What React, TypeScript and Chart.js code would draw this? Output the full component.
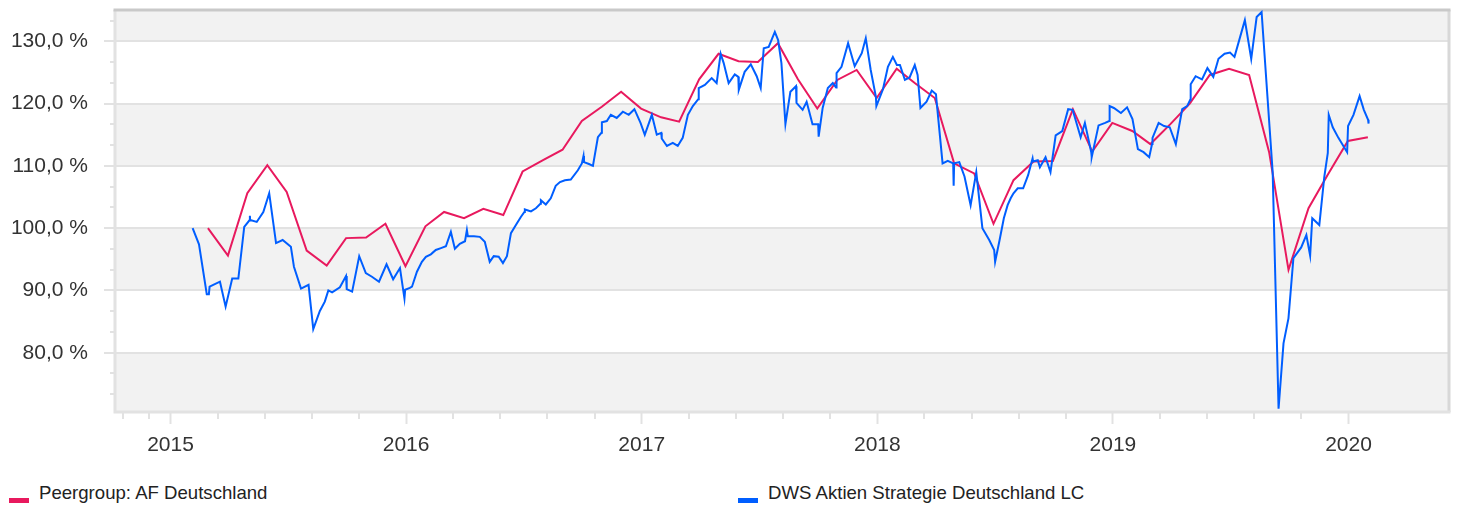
import React, { useEffect, useRef } from "react";
import { Chart, registerables } from "chart.js";

Chart.register(...registerables);

// ---------- data ----------
const X_TICKS = [2015, 2016, 2017, 2018, 2019, 2020];
const Y_TICKS = [80, 90, 100, 110, 120, 130];

const PEER_LABEL = "Peergroup: AF Deutschland";
const DWS_LABEL = "DWS Aktien Strategie Deutschland LC";

const peerMonths = [
  "2015-02", "2015-03", "2015-04", "2015-05", "2015-06", "2015-07", "2015-08", "2015-09", "2015-10", "2015-11", "2015-12",
  "2016-01", "2016-02", "2016-03", "2016-04", "2016-05", "2016-06", "2016-07", "2016-08", "2016-09", "2016-10", "2016-11", "2016-12",
  "2017-01", "2017-02", "2017-03", "2017-04", "2017-05", "2017-06", "2017-07", "2017-08", "2017-09", "2017-10", "2017-11", "2017-12",
  "2018-01", "2018-02", "2018-03", "2018-04", "2018-05", "2018-06", "2018-07", "2018-08", "2018-09", "2018-10", "2018-11", "2018-12",
  "2019-01", "2019-02", "2019-03", "2019-04", "2019-05", "2019-06", "2019-07", "2019-08", "2019-09", "2019-10", "2019-11", "2019-12",
  "2020-01",
];

const peerValues = [
  100.0, 95.6, 105.6, 110.1, 105.8, 96.4, 94.0, 98.4, 98.5, 100.7, 93.9,
  100.3, 102.6, 101.6, 103.1, 102.1, 109.1, 110.9, 112.6, 117.2, 119.5, 121.9, 119.2,
  117.8, 117.1, 123.9, 128.0, 126.8, 126.7, 129.7, 123.9, 119.2, 123.8, 125.4, 120.9,
  125.6, 123.3, 120.9, 110.4, 108.8, 100.7, 107.7, 110.7, 110.8, 119.1, 112.3, 116.9,
  115.6, 113.5, 116.7, 120.0, 124.6, 125.6, 124.6, 112.2, 93.3, 103.2, 108.6, 114.0,
  114.6,
];

// [time in decimal years, value in %]
const dwsSeries: [number, number][] = [
  [2015.094, 100.0], [2015.121, 97.4], [2015.154, 89.4], [2015.163, 89.4], [2015.166, 90.6],
  [2015.210, 91.4], [2015.234, 87.4], [2015.262, 91.9], [2015.288, 91.9], [2015.313, 100.2],
  [2015.336, 101.3], [2015.337, 102.0], [2015.338, 101.3], [2015.366, 101.0], [2015.394, 102.6],
  [2015.419, 105.6], [2015.448, 97.6], [2015.476, 98.1], [2015.511, 97.0], [2015.524, 93.8],
  [2015.554, 90.3], [2015.586, 90.9], [2015.606, 83.8], [2015.634, 86.7], [2015.655, 88.2],
  [2015.670, 90.0], [2015.686, 89.7], [2015.719, 90.5], [2015.745, 92.3], [2015.748, 90.2],
  [2015.771, 89.8], [2015.801, 95.5], [2015.829, 92.8], [2015.855, 92.2], [2015.885, 91.4],
  [2015.917, 94.2], [2015.945, 91.8], [2015.974, 93.6], [2015.993, 88.7], [2015.996, 90.1],
  [2016.016, 90.4], [2016.025, 90.6], [2016.046, 93.0], [2016.067, 94.6], [2016.084, 95.4],
  [2016.105, 95.8], [2016.126, 96.5], [2016.148, 96.8], [2016.169, 97.1], [2016.190, 99.4],
  [2016.207, 96.7], [2016.228, 97.5], [2016.250, 97.9], [2016.258, 99.7], [2016.262, 98.7],
  [2016.288, 98.7], [2016.313, 98.6], [2016.334, 97.8], [2016.355, 94.6], [2016.372, 95.5],
  [2016.393, 95.4], [2016.411, 94.4], [2016.428, 95.5], [2016.445, 99.2], [2016.466, 100.5],
  [2016.487, 101.8], [2016.502, 102.6], [2016.504, 103.0], [2016.530, 102.7], [2016.551, 103.2],
  [2016.570, 103.9], [2016.572, 104.5], [2016.593, 103.8], [2016.614, 104.8], [2016.635, 106.8],
  [2016.653, 107.4], [2016.674, 107.7], [2016.699, 107.8], [2016.729, 109.3], [2016.746, 110.4],
  [2016.753, 111.6], [2016.755, 110.6], [2016.776, 110.3], [2016.793, 110.0], [2016.814, 114.6],
  [2016.829, 115.3], [2016.831, 117.0], [2016.852, 117.2], [2016.869, 118.2], [2016.894, 117.7],
  [2016.920, 118.7], [2016.945, 118.2], [2016.969, 119.1], [2016.995, 116.9], [2017.013, 115.0],
  [2017.043, 118.2], [2017.064, 115.0], [2017.083, 115.3], [2017.085, 114.4], [2017.107, 113.2],
  [2017.132, 113.7], [2017.153, 113.2], [2017.174, 114.5], [2017.196, 118.2], [2017.217, 119.6],
  [2017.240, 120.7], [2017.242, 122.5], [2017.268, 123.0], [2017.297, 124.1], [2017.318, 123.3],
  [2017.335, 128.0], [2017.348, 126.5], [2017.369, 123.3], [2017.395, 124.7], [2017.410, 124.3],
  [2017.412, 122.2], [2017.437, 125.1], [2017.463, 126.3], [2017.488, 124.4], [2017.505, 122.5],
  [2017.518, 128.9], [2017.539, 129.1], [2017.565, 131.5], [2017.579, 130.2], [2017.593, 126.5],
  [2017.610, 116.7], [2017.631, 121.9], [2017.655, 122.8], [2017.657, 120.1], [2017.683, 119.0],
  [2017.700, 120.3], [2017.725, 116.7], [2017.749, 116.7], [2017.751, 114.7], [2017.768, 119.3],
  [2017.790, 122.5], [2017.811, 123.3], [2017.825, 122.6], [2017.827, 124.9], [2017.848, 125.9],
  [2017.876, 129.7], [2017.904, 126.0], [2017.934, 128.1], [2017.951, 130.5], [2017.972, 125.4],
  [2017.994, 121.1], [2017.996, 119.6], [2018.024, 122.3], [2018.045, 125.9], [2018.066, 127.5],
  [2018.083, 126.2], [2018.096, 126.2], [2018.117, 123.8], [2018.137, 124.2], [2018.159, 126.2],
  [2018.171, 124.6], [2018.183, 119.3], [2018.209, 120.3], [2018.231, 122.1], [2018.249, 121.5],
  [2018.251, 120.6], [2018.277, 110.4], [2018.299, 110.8], [2018.322, 110.4], [2018.324, 106.8],
  [2018.326, 110.4], [2018.348, 110.6], [2018.370, 108.3], [2018.396, 103.7], [2018.420, 109.0],
  [2018.446, 100.0], [2018.475, 98.1], [2018.496, 96.5], [2018.500, 94.6], [2018.519, 98.1],
  [2018.537, 101.6], [2018.553, 103.7], [2018.566, 104.8], [2018.578, 105.6], [2018.596, 106.4],
  [2018.619, 106.4], [2018.640, 108.5], [2018.659, 111.2], [2018.661, 110.7], [2018.681, 110.9],
  [2018.690, 109.8], [2018.714, 111.4], [2018.735, 109.0], [2018.757, 114.9], [2018.785, 115.6],
  [2018.810, 119.1], [2018.829, 119.0], [2018.863, 114.6], [2018.881, 116.9], [2018.908, 112.2],
  [2018.910, 111.4], [2018.939, 116.5], [2018.967, 116.9], [2018.984, 117.2], [2018.986, 119.6],
  [2019.004, 119.3], [2019.034, 118.5], [2019.060, 119.4], [2019.083, 117.5], [2019.106, 112.7],
  [2019.130, 112.2], [2019.154, 111.4], [2019.166, 113.5], [2019.168, 114.5], [2019.194, 116.9],
  [2019.217, 116.4], [2019.241, 116.2], [2019.267, 113.5], [2019.294, 119.1], [2019.315, 119.6],
  [2019.328, 120.6], [2019.330, 123.1], [2019.351, 124.4], [2019.378, 123.9], [2019.401, 125.7],
  [2019.426, 124.3], [2019.448, 127.2], [2019.474, 128.0], [2019.497, 128.2], [2019.516, 127.5],
  [2019.560, 133.4], [2019.587, 127.2], [2019.610, 133.9], [2019.631, 134.7], [2019.678, 109.0],
  [2019.703, 71.0], [2019.724, 81.5], [2019.745, 85.5], [2019.766, 95.2], [2019.799, 96.9],
  [2019.821, 98.9], [2019.837, 95.6], [2019.846, 101.6], [2019.876, 100.5], [2019.897, 108.2],
  [2019.912, 112.1], [2019.916, 118.2], [2019.933, 116.2], [2019.957, 114.5], [2019.994, 112.2],
  [2019.998, 116.4], [2020.021, 118.2], [2020.047, 121.2], [2020.065, 119.0], [2020.083, 117.4],
  [2020.085, 116.8],
];

// ---------- styling ----------
const RED = "#e8195e";
const BLUE = "#005eff";
const FONT = "'Liberation Sans', Arial, sans-serif";
const AXIS_LINE = "#e2e2e2";

const X_MIN = 2014.7645;
const X_MAX = 2020.4264;
const Y_MIN = 70.48;
const Y_MAX = 135.03;

const WHITE_BANDS: [number, number][] = [[80, 90], [100, 110], [120, 130]];

function monthEndYear(m: string): number {
  const [y, mo] = m.split("-").map(Number);
  const t = Date.UTC(y, mo, 0);
  const start = Date.UTC(y, 0, 1);
  const end = Date.UTC(y + 1, 0, 1);
  return y + (t - start) / (end - start);
}

const yMinorTicks = (() => {
  const out: number[] = [];
  for (let i = 0; i <= 21; i++) {
    if (i % 3 === 0) continue;
    const v = 70 + (i * 10) / 3;
    if (v > Y_MIN && v < Y_MAX) out.push(v);
  }
  return out;
})();

const xMinorTicks = (() => {
  const out: number[] = [2014.8, 2014.91];
  for (let yr = 2015; yr < 2020; yr++) {
    for (let k = 1; k < 5; k++) out.push(yr + k * 0.2);
  }
  return out;
})();

function zeroPadding(s: any) {
  s.paddingTop = 0;
  s.paddingBottom = 0;
  s.paddingLeft = 0;
  s.paddingRight = 0;
}

const decorPlugin = {
  id: "decor",
  beforeDraw(chart: any) {
    const { ctx, chartArea: a, scales } = chart;
    const y = scales.y;
    ctx.save();
    ctx.fillStyle = "#f2f2f2";
    ctx.fillRect(a.left, a.top, a.right - a.left, a.bottom - a.top);
    ctx.fillStyle = "#ffffff";
    for (const [lo, hi] of WHITE_BANDS) {
      const y1 = y.getPixelForValue(hi);
      const y2 = y.getPixelForValue(lo);
      ctx.fillRect(a.left, y1, a.right - a.left, y2 - y1);
    }
    ctx.restore();
  },
  beforeDatasetsDraw(chart: any) {
    const { ctx, chartArea: a, scales } = chart;
    const x = scales.x;
    const y = scales.y;
    ctx.save();
    ctx.lineWidth = 2;
    ctx.strokeStyle = AXIS_LINE;
    ctx.beginPath();
    for (const v of yMinorTicks) {
      const py = Math.round(y.getPixelForValue(v));
      ctx.moveTo(a.left - 5, py);
      ctx.lineTo(a.left, py);
    }
    for (const v of xMinorTicks) {
      const px = Math.round(x.getPixelForValue(v));
      ctx.moveTo(px, a.bottom);
      ctx.lineTo(px, a.bottom + 7);
    }
    ctx.stroke();
    ctx.lineWidth = 3;
    ctx.strokeStyle = "#d8d8d8";
    ctx.beginPath();
    ctx.moveTo(a.right, a.top);
    ctx.lineTo(a.right, a.bottom);
    ctx.stroke();
    ctx.strokeStyle = AXIS_LINE;
    ctx.beginPath();
    ctx.moveTo(a.left, a.top);
    ctx.lineTo(a.left, a.bottom + 1.5);
    ctx.moveTo(a.left - 1.5, a.bottom);
    ctx.lineTo(a.right + 1.5, a.bottom);
    ctx.stroke();
    ctx.strokeStyle = "#c9c9c9";
    ctx.beginPath();
    ctx.moveTo(a.left - 1.5, a.top);
    ctx.lineTo(a.right + 1.5, a.top);
    ctx.stroke();
    ctx.restore();
  },
};

export default function App() {
  const canvasRef = useRef<HTMLCanvasElement | null>(null);

  useEffect(() => {
    document.body.style.margin = "0";
    const canvas = canvasRef.current;
    if (!canvas) return;
    const chart = new Chart(canvas, {
      type: "line",
      data: {
        datasets: [
          {
            label: DWS_LABEL,
            data: dwsSeries.map(([t, v]) => ({ x: t, y: v })),
            borderColor: BLUE,
            backgroundColor: BLUE,
            borderWidth: 2,
            pointRadius: 0,
            tension: 0,
            fill: false,
          },
          {
            label: PEER_LABEL,
            data: peerMonths.map((m, i) => ({ x: monthEndYear(m), y: peerValues[i] })),
            borderColor: RED,
            backgroundColor: RED,
            borderWidth: 2,
            pointRadius: 0,
            tension: 0,
            fill: false,
          },
        ],
      },
      options: {
        animation: false,
        responsive: false,
        maintainAspectRatio: false,
        layout: { autoPadding: false, padding: { top: 10, right: 11, bottom: 8, left: 0 } },
        plugins: {
          legend: { display: false },
          tooltip: { enabled: false },
          title: { display: false },
        },
        scales: {
          x: {
            type: "linear",
            min: X_MIN,
            max: X_MAX,
            afterBuildTicks: (s: any) => {
              s.ticks = X_TICKS.map((v) => ({ value: v }));
            },
            afterFit: (s: any) => {
              s.height = 60;
              zeroPadding(s);
            },
            grid: {
              drawOnChartArea: false,
              drawTicks: true,
              tickLength: 12,
              tickWidth: 2,
              tickColor: AXIS_LINE,
            },
            border: { display: false },
            ticks: {
              autoSkip: false,
              maxRotation: 0,
              padding: 9,
              color: "#333333",
              font: { family: FONT, size: 21 },
              callback: (v: any) => String(v),
            },
          },
          y: {
            type: "linear",
            min: Y_MIN,
            max: Y_MAX,
            afterBuildTicks: (s: any) => {
              s.ticks = Y_TICKS.map((v) => ({ value: v }));
            },
            afterFit: (s: any) => {
              s.width = 115;
              zeroPadding(s);
            },
            grid: {
              color: AXIS_LINE,
              lineWidth: 2,
              drawTicks: true,
              tickLength: 11,
              tickWidth: 2,
              tickColor: AXIS_LINE,
            },
            border: { display: false },
            ticks: {
              padding: 16,
              color: "#333333",
              font: { family: FONT, size: 21 },
              callback: (v: any) => Number(v).toFixed(1).replace(".", ",") + " %",
            },
          },
        },
      },
      plugins: [decorPlugin],
    } as any);
    return () => chart.destroy();
  }, []);

  const legendText: React.CSSProperties = {
    position: "absolute",
    top: 482,
    fontFamily: FONT,
    fontSize: 18.6,
    lineHeight: "21px",
    color: "#222222",
    whiteSpace: "nowrap",
  };
  const legendBox: React.CSSProperties = {
    position: "absolute",
    top: 498,
    width: 20,
    height: 5,
  };

  return (
    <div style={{ position: "relative", width: 1460, height: 508, overflow: "hidden", background: "#ffffff" }}>
      <canvas ref={canvasRef} width={1460} height={480} style={{ position: "absolute", left: 0, top: 0, width: 1460, height: 480 }} />
      <div style={{ ...legendBox, left: 9, background: RED }} />
      <div style={{ ...legendText, left: 39 }}>{PEER_LABEL}</div>
      <div style={{ ...legendBox, left: 738, background: BLUE }} />
      <div style={{ ...legendText, left: 768 }}>{DWS_LABEL}</div>
    </div>
  );
}
